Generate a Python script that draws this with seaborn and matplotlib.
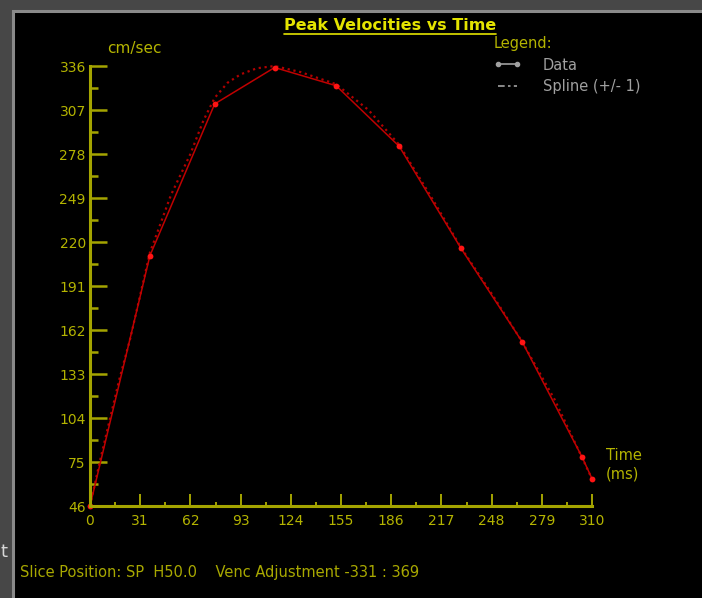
import matplotlib
matplotlib.use("Agg")
import matplotlib.pyplot as plt
import seaborn as sns
from matplotlib.lines import Line2D
from matplotlib.patches import Rectangle

# measured peak velocities (cm/sec) at each trigger time (ms)
DATA_TIME = [0, 37, 77, 114, 152, 191, 229, 267, 304, 310]
DATA_VEL = [46, 211, 311, 335, 323, 283, 216, 154, 78, 64]

# spline fit
SPLINE_TIME = [0, 6, 18, 25, 37, 50, 62, 70, 77, 85, 93, 103, 114, 130, 152,
               172, 191, 210, 229, 248, 267, 287, 304, 310]
SPLINE_VEL = [46, 75, 129, 157, 213, 251, 278, 300, 315, 325, 330.5, 334.5, 336,
              332, 324, 307, 284, 251, 216.5, 186, 154, 116, 77.6, 63.8]

X_TICKS = [0, 31, 62, 93, 124, 155, 186, 217, 248, 279, 310]
Y_TICKS = [46, 75, 104, 133, 162, 191, 220, 249, 278, 307, 336]

TITLE = "Peak Velocities vs Time"
Y_UNIT = "cm/sec"
X_UNIT = "Time\n(ms)"
FOOTER = "Slice Position: SP  H50.0    Venc Adjustment -331 : 369"
LEGEND_LABELS = ["Data", "Spline (+/- 1)"]

AXIS_YELLOW = "#a4a400"
TEXT_YELLOW = "#b4b400"
TITLE_YELLOW = "#e4e400"
GREY_TEXT = "#a0a0a0"

sns.set_theme(style="dark", rc={"axes.facecolor": "black", "figure.facecolor": "#474747"})
plt.rcParams["font.family"] = ["DejaVu Sans"]

W, H = 702, 598
fig = plt.figure(figsize=(W / 100, H / 100), dpi=100)

# black panel with a light grey bevel line on top/left
panel = Rectangle((13 / W, -0.05), 1.1, (H - 11) / H + 0.05, transform=fig.transFigure,
                  facecolor="black", edgecolor="#8a8a8a", linewidth=2.2, zorder=-5)
fig.patches.append(panel)

ax = fig.add_axes([90 / W, 1 - 506 / H, 502 / W, 440 / H])
ax.set_facecolor("none")

sns.lineplot(x=SPLINE_TIME, y=SPLINE_VEL, ax=ax, color="#b00000", linestyle=":",
             linewidth=1.6, clip_on=False)
sns.lineplot(x=DATA_TIME, y=DATA_VEL, ax=ax, color="#c00000", linewidth=1.1,
             marker="o", markersize=4.2, markeredgewidth=0, markerfacecolor="#ff1414",
             clip_on=False)

ax.set_xlim(0, 310)
ax.set_ylim(46, 336)
ax.set_xlabel("")
ax.set_ylabel("")
ax.grid(False)

for side in ["top", "right"]:
    ax.spines[side].set_visible(False)
for side in ["left", "bottom"]:
    ax.spines[side].set_color(AXIS_YELLOW)
    ax.spines[side].set_linewidth(2.2)

ax.set_xticks(X_TICKS)
ax.set_xticks([t + 15.5 for t in X_TICKS[:-1]], minor=True)
ax.set_yticks(Y_TICKS)
ax.set_yticks([v + 14.5 for v in Y_TICKS[:-1]], minor=True)

ax.tick_params(axis="both", which="both", direction="in", color=AXIS_YELLOW,
               labelcolor=TEXT_YELLOW, bottom=True, left=True, labelsize=10)
ax.tick_params(axis="x", which="major", length=9, width=1.4, pad=6)
ax.tick_params(axis="x", which="minor", length=3, width=1.4)
ax.tick_params(axis="y", which="major", length=12, width=1.8, pad=3)
ax.tick_params(axis="y", which="minor", length=6, width=1.8)

# texts
title = fig.text(390 / W, 1 - 25 / H, TITLE, ha="center", va="center", fontsize=11.5,
                 fontweight="bold", color=TITLE_YELLOW)
fig.text(107 / W, 1 - 48 / H, Y_UNIT, ha="left", va="center", fontsize=11, color=TEXT_YELLOW)
fig.text(606 / W, 1 - 465 / H, X_UNIT, ha="left", va="center", fontsize=10.5,
         color=TEXT_YELLOW, linespacing=1.3)
fig.text(20 / W, 1 - 573 / H, FOOTER, ha="left", va="center", fontsize=10.5, color="#a8a800")
fig.text(0.5 / W, 1 - 552 / H, "t", ha="left", va="center", fontsize=13, color="#d8d8d8")

# underline the title
fig.canvas.draw()
bb = title.get_window_extent(fig.canvas.get_renderer()).transformed(fig.transFigure.inverted())
fig.add_artist(Line2D([bb.x0, bb.x1], [bb.y0 - 1.0 / H, bb.y0 - 1.0 / H], transform=fig.transFigure,
                      color=TITLE_YELLOW, linewidth=1.2))

handles = [
    Line2D([], [], color=GREY_TEXT, linewidth=1.2, marker="o", markersize=3),
    Line2D([], [], color=GREY_TEXT, linewidth=1.2, dashes=(4, 2, 1.5, 2)),
]
leg = fig.legend(handles, LEGEND_LABELS, loc="upper left", bbox_to_anchor=(494 / W, 1 - 36 / H),
                 title="Legend:", frameon=False, fontsize=10.5, title_fontsize=10.5, numpoints=2,
                 handlelength=1.9, labelcolor=GREY_TEXT, alignment="left", handletextpad=1.45,
                 labelspacing=0.45, borderpad=0, borderaxespad=0)
leg.get_title().set_color(TEXT_YELLOW)

fig.savefig("out.png", dpi=100, facecolor=fig.get_facecolor())
